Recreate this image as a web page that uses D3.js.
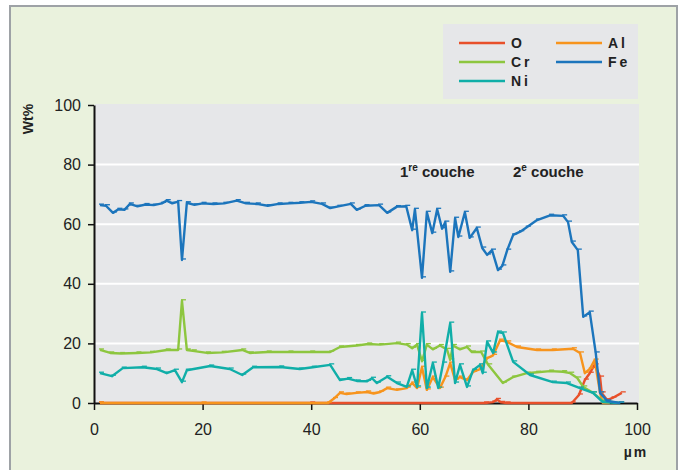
<!DOCTYPE html>
<html>
<head>
<meta charset="utf-8">
<script src="https://cdn.jsdelivr.net/npm/d3@7"></script>
<style>
body { margin: 0; background: #ffffff; }
svg text { font-family: Arial, "Liberation Sans", sans-serif; fill: #222; }
</style>
</head>
<body>
<div id="chart"></div>
<script>
// profile data, [µm, wt%]
var oData = [[1.1,0],[40,0],[72,0],[73.5,0.3],[74.2,1.2],[75,0.2],[76,0],[88,0],[89.3,2.7],[90.4,7.7],[91.3,10],[92.2,12.8],[93.2,8.7],[93.5,3.4],[94.5,1],[95.5,1.7],[97.2,3.4]];
var alData = [[1.1,0],[20,0],[43.1,0],[44.2,1.5],[45.3,3.4],[46.5,3],[48.4,3.4],[50.3,3.7],[51.5,3.2],[52.7,3.7],[54,5],[55.8,4.4],[57.6,5],[58.6,6.7],[59.5,5],[60.4,12],[61.3,4.4],[62.4,8.7],[63.7,5],[64.7,8.7],[65.6,13.4],[66.5,7.7],[67.4,8.7],[68.7,7.7],[69.8,10.4],[71.1,11.4],[72.4,15],[73.5,16],[74.8,21.1],[76.1,20.5],[77.9,18.8],[81.6,17.8],[84.5,17.8],[88.2,18.2],[89.5,16.8],[90.4,10],[91.3,11.4],[92.2,14.4],[93.2,3.4],[93.7,0],[95,0]];
var crData = [[1.1,17.8],[3,16.8],[5,16.6],[8,16.8],[10.5,17],[13.4,17.8],[15.5,17.8],[16.2,34.3],[17.1,17.8],[18.2,17.5],[20.8,16.8],[23.7,17],[27.3,17.8],[28.7,16.8],[32,17.1],[36,17.1],[40,17.1],[43.5,17.1],[45.3,18.8],[48.4,19.3],[50.5,19.8],[52.7,19.6],[55.8,20.1],[57.6,19.6],[58.6,18.4],[59.5,19.6],[60.4,14],[61.3,19.6],[62.4,18],[63.7,19.3],[65,18],[65.6,14.5],[66.1,19.3],[67.4,18],[68.7,18.8],[69.6,17.1],[71.3,17.1],[72.6,12.8],[75.3,6.7],[77.2,8.7],[79.7,10],[81.6,10.3],[84,10.7],[86.4,10.5],[87.7,10],[89,8.4],[90.1,5.4],[91.9,3.4],[93.7,0.7],[96.9,0]];
var niData = [[1.1,10],[3.3,9],[5.3,11.7],[9,12],[11.6,11.4],[13.4,10],[14.9,11],[16.2,7],[17.1,11],[21.4,12.4],[25,11.4],[27.3,9.4],[29.3,12],[34.3,12.1],[37.9,11.4],[40.3,12],[43.5,12.8],[45.3,7.7],[46.8,8.2],[48.4,7.4],[50.3,7.3],[51.2,8.3],[52.1,6.7],[54,8.8],[55.8,6.7],[57.6,5.4],[58.6,11],[59.5,5.4],[60.4,30.2],[61.3,5],[62.4,13.4],[63.4,5],[64.3,13.4],[65.6,26.8],[66.5,6.7],[67.4,12.8],[68.7,5.4],[69.8,11],[71.1,12.8],[71.6,10],[72.4,20.5],[73.5,16.8],[74.4,23.8],[75.3,23.5],[77.2,13.8],[80.3,9.4],[84.5,7],[87.1,6.7],[89.5,5],[91.9,3.4],[93.7,0.3],[96.9,0]];
var feData = [[1.1,66.4],[2.2,66.2],[3.5,63.8],[4.5,65],[5.6,64.8],[6.6,66.8],[8,66],[9.5,66.6],[11,66.4],[12.5,67],[13.4,67.9],[14.4,67],[15.5,67.6],[16.2,48],[17.1,67.2],[18.5,66.5],[20,67],[22,66.8],[24,67],[26.3,67.9],[28,67],[30,66.8],[32,66.2],[34,66.8],[36,67],[38,67.2],[40,67.5],[42,66.8],[43.5,65.4],[45,66],[47.3,66.8],[48.4,64.8],[50,66.2],[52.5,66.4],[54,63.8],[55.8,65.9],[57.5,66],[58.6,58],[59.1,65],[60.4,42],[61.3,64],[62.3,57],[63.2,65],[64.1,58.5],[64.7,60.7],[65.6,44],[66.5,62],[67.1,55.7],[68.3,64],[69.2,55.4],[70.5,58.7],[71.5,52],[72.4,49.7],[73.3,51.3],[74.4,44.6],[75.2,46],[76.1,51.3],[77.2,56.4],[78.5,57.5],[79.7,59],[81.6,61.4],[84,63],[86.4,62.8],[87.3,60.7],[88,54],[89.1,51.3],[90.1,28.9],[91.3,30.5],[92.4,16.8],[93.2,3.4],[94.5,0.7],[96.9,0]];

var seriesNames = ["O", "Al", "Cr", "Fe", "Ni"];
var seriesColors = ["#e8502a", "#f7941d", "#8dc63f", "#1c75bc", "#10aea8"];
var xTicks = [0, 20, 40, 60, 80, 100];
var yTicks = [0, 20, 40, 60, 80, 100];

var W = 682, H = 470;
var svg = d3.select("#chart").append("svg")
  .attr("width", W).attr("height", H);

// frame
svg.append("rect")
  .attr("x", 10).attr("y", 6).attr("width", 667).attr("height", 480)
  .attr("fill", "#eaf2dd").attr("stroke", "#9ea2a6").attr("stroke-width", 2);

var x = d3.scaleLinear().domain([0, 100]).range([94, 637]);
var y = d3.scaleLinear().domain([0, 100]).range([403, 105]);

// plot background
svg.append("rect")
  .attr("x", 95).attr("y", 104).attr("width", 544).attr("height", 299)
  .attr("fill", "#e6e7e9");

// gridlines
svg.append("g").selectAll("line")
  .data([20, 40, 60, 80])
  .join("line")
  .attr("x1", 95).attr("x2", 639)
  .attr("y1", d => y(d)).attr("y2", d => y(d))
  .attr("stroke", "#ffffff").attr("stroke-width", 2);

// legend box
svg.append("rect")
  .attr("x", 443).attr("y", 24).attr("width", 195).attr("height", 75)
  .attr("fill", "#e6e7e9");

var legendPos = {
  "O":  [459, 43], "Al": [556, 43],
  "Cr": [459, 62], "Fe": [556, 62],
  "Ni": [459, 81]
};
seriesNames.forEach(function(name, i){
  var p = legendPos[name];
  svg.append("line")
    .attr("x1", p[0]).attr("x2", p[0] + 46)
    .attr("y1", p[1]).attr("y2", p[1])
    .attr("stroke", seriesColors[i]).attr("stroke-width", 2.5);
  svg.append("text")
    .attr("x", p[0] + 52).attr("y", p[1] + 5)
    .style("font-size", "14px").style("font-weight", "bold")
    .style("letter-spacing", "3px")
    .text(name);
});

// axes (under the lines)
var xAxis = svg.append("g")
  .attr("transform", "translate(0,403)")
  .call(d3.axisBottom(x).tickValues(xTicks).tickSize(7).tickPadding(14).tickSizeOuter(0));
var yAxis = svg.append("g")
  .attr("transform", "translate(94,0)")
  .call(d3.axisLeft(y).tickValues(yTicks).tickSize(6).tickPadding(7).tickSizeOuter(0));
[xAxis, yAxis].forEach(function(a){
  a.select(".domain").attr("stroke", "#111").attr("stroke-width", 2);
  a.selectAll(".tick line").attr("stroke", "#111").attr("stroke-width", 1.5);
  a.selectAll(".tick text").style("font-size", "16px").attr("fill", "#222")
    .style("font-family", "Arial, 'Liberation Sans', sans-serif");
});

// lines
var line = d3.line().x(d => x(d[0])).y(d => y(d[1]));
var drawOrder = [[oData, 0], [alData, 1], [crData, 2], [niData, 4], [feData, 3]];
drawOrder.forEach(function(s){
  var g = svg.append("g");
  g.append("path")
    .datum(s[0])
    .attr("fill", "none")
    .attr("stroke", seriesColors[s[1]])
    .attr("stroke-width", 2.4)
    .attr("stroke-linejoin", "round")
    .attr("d", line);
  g.selectAll("line")
    .data(s[0])
    .join("line")
    .attr("x1", d => x(d[0]) - 1).attr("x2", d => x(d[0]) + 4)
    .attr("y1", d => y(d[1]) - 1).attr("y2", d => y(d[1]) - 1)
    .attr("stroke", seriesColors[s[1]]).attr("stroke-width", 1.3);
});

// axis titles
svg.append("text")
  .attr("transform", "translate(33,119) rotate(-90)")
  .attr("text-anchor", "middle")
  .style("font-size", "14px").style("font-weight", "bold")
  .text("Wt%");
svg.append("text")
  .attr("x", 636).attr("y", 457)
  .attr("text-anchor", "middle")
  .style("font-size", "14px").style("font-weight", "bold")
  .style("letter-spacing", "2px")
  .text("µm");

// layer labels
var t1 = svg.append("text").attr("x", 400).attr("y", 177)
  .style("font-size", "15px").style("font-weight", "bold");
t1.append("tspan").text("1");
t1.append("tspan").attr("dy", -6).style("font-size", "10px").text("re");
t1.append("tspan").attr("dy", 6).text(" couche");
var t2 = svg.append("text").attr("x", 513).attr("y", 177)
  .style("font-size", "15px").style("font-weight", "bold");
t2.append("tspan").text("2");
t2.append("tspan").attr("dy", -6).style("font-size", "10px").text("e");
t2.append("tspan").attr("dy", 6).text(" couche");
</script>
</body>
</html>
